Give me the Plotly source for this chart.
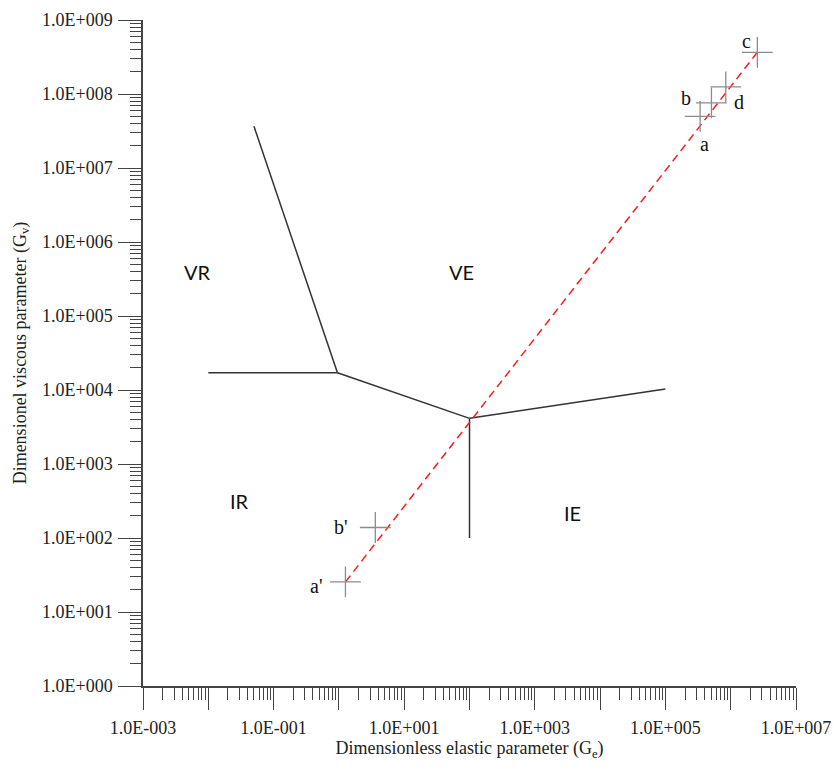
import numpy as np
import plotly.graph_objects as go

# ---------------- data ----------------
# regime boundary segments (Ge, Gv)
vr_ve_ge = [0.05, 0.95]
vr_ve_gv = [3.66e7, 1.71e4]
vr_ir_ge = [0.01, 0.95]
vr_ir_gv = [1.71e4, 1.71e4]
ir_ve_ge = [0.95, 100]
ir_ve_gv = [1.71e4, 4.14e3]
ve_ie_ge = [100, 1.0e5]
ve_ie_gv = [4.14e3, 1.03e4]
ir_ie_ge = [100, 100]
ir_ie_gv = [4.14e3, 100]

# operating points
point_labels = ["a'", "b'", "a", "b", "d", "c"]
point_ge = [1.26, 3.61, 3.40e5, 5.07e5, 8.41e5, 2.56e6]
point_gv = [25.5, 138.7, 4.99e7, 7.59e7, 1.25e8, 3.66e8]

# dashed trend line
trend_ge = [1.26, 2.56e6]
trend_gv = [25.5, 3.66e8]

# regime names
region_labels = ["VR", "VE", "IR", "IE"]
region_ge = [6.8e-3, 74.8, 0.0299, 3750]
region_gv = [3.95e5, 3.95e5, 315, 217]

# axis ticks
x_exp = list(range(-3, 8))
y_exp = list(range(0, 10))
x_labeled = [-3, -1, 1, 3, 5, 7]

def sci(k):
    return f"1.0E{k:+04d}"

x_tickvals = [10.0 ** k for k in x_exp]
x_ticktext = [sci(k) if k in x_labeled else "" for k in x_exp]
y_tickvals = [10.0 ** k for k in y_exp]
y_ticktext = [sci(k) for k in y_exp]
x_minor = [m * 10.0 ** k for k in range(-3, 7) for m in range(2, 10)]
y_minor = [m * 10.0 ** k for k in range(0, 9) for m in range(2, 10)]

# ---------------- figure ----------------
SERIF = "Liberation Serif, Times New Roman, serif"
SANS = "Lato, Open Sans, sans-serif"
LINE_COL = "#333333"

fig = go.Figure()

for gx, gy in [(vr_ve_ge, vr_ve_gv), (vr_ir_ge, vr_ir_gv), (ir_ve_ge, ir_ve_gv),
               (ve_ie_ge, ve_ie_gv), (ir_ie_ge, ir_ie_gv)]:
    fig.add_trace(go.Scatter(x=gx, y=gy, mode="lines",
                             line=dict(color=LINE_COL, width=1.5),
                             showlegend=False, hoverinfo="skip"))

fig.add_trace(go.Scatter(x=trend_ge, y=trend_gv, mode="lines",
                         line=dict(color="#ff1a1a", width=1.5, dash="8px,5px"),
                         showlegend=False, hoverinfo="skip"))

fig.add_trace(go.Scatter(x=point_ge, y=point_gv, mode="markers",
                         marker=dict(symbol="cross-thin", size=22,
                                     line=dict(color="#8c8c8c", width=1.3)),
                         showlegend=False))

# point labels (pixel offsets from each marker)
offsets = {"a'": (-29, -4), "b'": (-34, 0), "a": (4, -28),
           "b": (-25, 5), "d": (13, -15), "c": (-11, 11)}
for lab, gx, gy in zip(point_labels, point_ge, point_gv):
    dx, dy = offsets[lab]
    fig.add_annotation(x=np.log10(gx), y=np.log10(gy), text=lab, showarrow=False,
                       xshift=dx, yshift=dy,
                       font=dict(family=SERIF, size=20, color="#111111"))

for lab, gx, gy in zip(region_labels, region_ge, region_gv):
    fig.add_annotation(x=np.log10(gx), y=np.log10(gy), text=lab, showarrow=False,
                       font=dict(family=SANS, size=20, color="#111111"))

axis_common = dict(
    showgrid=False, zeroline=False, showline=True, linecolor="#444444", linewidth=1.5,
    ticks="outside", tickcolor="#444444", tickwidth=1.2,
    tickfont=dict(family=SERIF, size=18, color="#222222"),
    ticklabeloverflow="allow",
)

fig.update_xaxes(
    type="log", range=[-3, 7], tickmode="array",
    tickvals=x_tickvals, ticktext=x_ticktext, ticklen=22,
    ticklabelstandoff=3,
    minor=dict(tickmode="array", tickvals=x_minor, ticks="outside",
               ticklen=12, tickwidth=1.2, tickcolor="#444444", showgrid=False),
    title=dict(text="Dimensionless elastic parameter (G<sub>e</sub>)",
               font=dict(family=SERIF, size=18, color="#222222"), standoff=0),
    **axis_common,
)
fig.update_yaxes(
    type="log", range=[0, 9], tickmode="array",
    tickvals=y_tickvals, ticktext=y_ticktext, ticklen=23,
    ticklabelstandoff=2,
    minor=dict(tickmode="array", tickvals=y_minor, ticks="outside",
               ticklen=11, tickwidth=1.2, tickcolor="#444444", showgrid=False),
    title=dict(text="Dimensionel viscous parameter (G<sub>v</sub>)",
               font=dict(family=SERIF, size=18, color="#222222"), standoff=11),
    **axis_common,
)

fig.update_layout(
    width=833, height=769,
    margin=dict(l=143, r=37, t=20, b=83, autoexpand=False),
    plot_bgcolor="white", paper_bgcolor="white",
    showlegend=False,
)

# remove the default 8px page margin so the figure fills the window exactly
fig.write_html("out.html",
               config={"displayModeBar": False},
               post_script="document.body.style.margin='0';document.body.style.overflow='hidden';")
